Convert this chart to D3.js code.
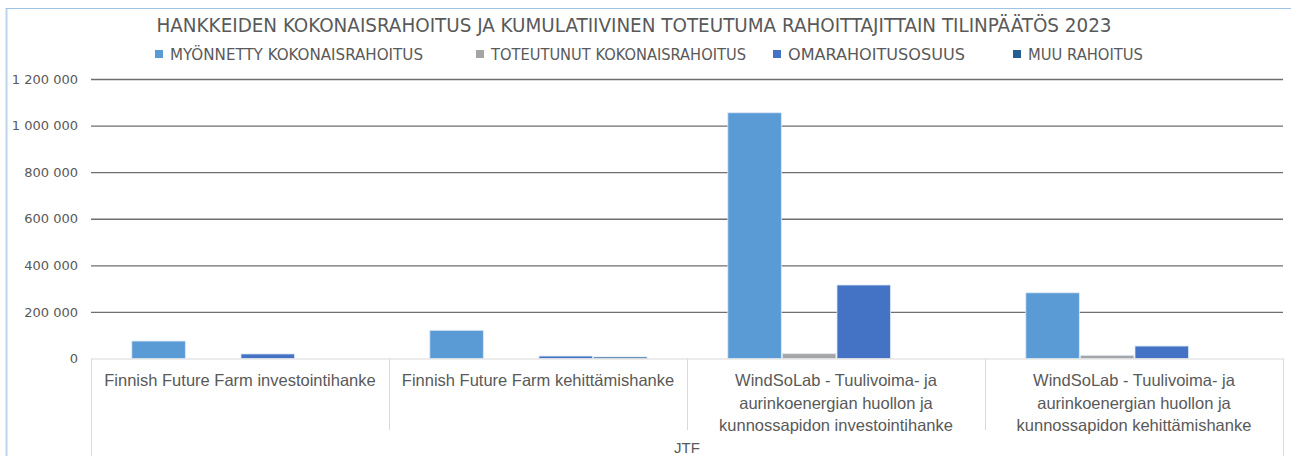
<!DOCTYPE html>
<html>
<head>
<meta charset="utf-8">
<script src="https://cdn.jsdelivr.net/npm/d3@7"></script>
<style>
  html, body { margin: 0; padding: 0; background: #fff; }
  svg { display: block; }
</style>
</head>
<body>
<svg id="kaavio" width="1291" height="456"></svg>
<script>
const hankkeet = [
    ["Finnish Future Farm investointihanke"],
    ["Finnish Future Farm kehittämishanke"],
    ["WindSoLab - Tuulivoima- ja", "aurinkoenergian huollon ja", "kunnossapidon investointihanke"],
    ["WindSoLab - Tuulivoima- ja", "aurinkoenergian huollon ja", "kunnossapidon kehittämishanke"]
];
const sarjat = ["MYÖNNETTY KOKONAISRAHOITUS", "TOTEUTUNUT KOKONAISRAHOITUS", "OMARAHOITUSOSUUS", "MUU RAHOITUS"];
const varit = ["#5b9bd5", "#a5a5a5", "#4472c4", "#255e91"];

const myonnetty  = [75000, 121000, 1055000, 282000];
const toteutunut = [0, 0, 20500, 13500];
const omarahoitus = [19500, 10500, 315500, 53500];
const muu        = [0, 6500, 0, 0];

const yTicks = [0, 200000, 400000, 600000, 800000, 1000000, 1200000];
const rahoittaja = "JTF";

const arvot = [myonnetty, toteutunut, omarahoitus, muu];

const svg = d3.select("#kaavio");
const vasen = 91, oikea = 1283, ylä = 79, nolla = 358.5;
const teksti = "#595959";

// ulkoreunus
svg.append("line").attr("x1", 6.5).attr("x2", 6.5).attr("y1", 8).attr("y2", 456)
    .attr("stroke", "#bdd4ee").attr("stroke-width", 2);
svg.append("line").attr("x1", 6).attr("x2", 1291).attr("y1", 8.5).attr("y2", 8.5)
    .attr("stroke", "#9dc3e6").attr("stroke-width", 1);

const y = d3.scaleLinear().domain([0, 1200000]).range([nolla, ylä]);
const x0 = d3.scaleBand().domain(d3.range(hankkeet.length)).range([vasen, oikea]);
const bw = x0.bandwidth();
const x1 = d3.scaleBand().domain(sarjat).range([bw * 0.137, bw * 0.866]).paddingInner(0.02);

const fmt = v => d3.format(",")(v).replace(/,/g, " ");

// ruudukko
const yAxis = svg.append("g").attr("transform", `translate(${vasen},0)`)
    .call(d3.axisLeft(y).tickValues(yTicks).tickSize(-(oikea - vasen)).tickPadding(13).tickFormat(fmt));
yAxis.select(".domain").remove();
yAxis.selectAll(".tick line")
    .attr("stroke", d => d === 0 ? "none" : "#6f6f6f").attr("stroke-width", 1.3);
yAxis.selectAll(".tick text")
    .attr("fill", teksti).attr("font-family", "DejaVu Sans, sans-serif").attr("font-size", 13);

// pylväät
const ryhma = svg.append("g").selectAll("g")
    .data(hankkeet.map((h, i) => i))
    .join("g")
    .attr("transform", i => `translate(${x0(i)},0)`);

ryhma.selectAll("rect")
    .data(i => sarjat.map((s, j) => ({ s, j, v: arvot[j][i] })).filter(d => d.v > 0))
    .join("rect")
    .attr("x", d => x1(d.s))
    .attr("width", x1.bandwidth())
    .attr("y", d => y(d.v))
    .attr("height", d => nolla - y(d.v))
    .attr("fill", d => varit[d.j])
    .attr("stroke", "#dbe8f5").attr("stroke-width", 0.8);

// kategoria-akseli
const ak = svg.append("g").attr("stroke", "#d9d9d9").attr("stroke-width", 1);
ak.append("line").attr("x1", vasen).attr("x2", oikea).attr("y1", nolla + 0.5).attr("y2", nolla + 0.5);
x0.domain().forEach(i => {
    ak.append("line").attr("x1", Math.round(x0(i)) + 0.5).attr("x2", Math.round(x0(i)) + 0.5)
        .attr("y1", nolla).attr("y2", i === 0 ? 456 : 430);
});
ak.append("line").attr("x1", oikea + 0.5).attr("x2", oikea + 0.5).attr("y1", nolla).attr("y2", 456);

svg.append("g").selectAll("text")
    .data(hankkeet.map((h, i) => i))
    .join("text")
    .attr("text-anchor", "middle")
    .attr("fill", teksti)
    .attr("font-family", "Liberation Sans, Arial, sans-serif")
    .attr("font-size", 16.5)
    .each(function(i) {
        d3.select(this).selectAll("tspan").data(hankkeet[i]).join("tspan")
            .attr("x", x0(i) + bw / 2)
            .attr("y", (d, k) => 386 + k * 22.5)
            .text(d => d);
    });

svg.append("text").attr("x", (vasen + oikea) / 2).attr("y", 453)
    .attr("text-anchor", "middle").attr("fill", teksti)
    .attr("font-family", "Liberation Sans, Arial, sans-serif").attr("font-size", 15)
    .text(rahoittaja);

// otsikko
svg.append("text").attr("x", 634).attr("y", 32)
    .attr("text-anchor", "middle").attr("fill", teksti)
    .attr("font-family", "Liberation Sans Narrow, DejaVu Sans Condensed, sans-serif")
    .attr("font-size", 20)
    .attr("textLength", 955).attr("lengthAdjust", "spacingAndGlyphs")
    .text("HANKKEIDEN KOKONAISRAHOITUS JA KUMULATIIVINEN TOTEUTUMA RAHOITTAJITTAIN TILINPÄÄTÖS 2023");

// selite
const seliteX = [155, 476, 773, 1013];
const seliteL = [253, 255, 177, 115];
const sel = svg.append("g").selectAll("g").data(sarjat).join("g")
    .attr("transform", (d, i) => `translate(${seliteX[i]},54)`);
sel.append("rect").attr("x", 0).attr("y", -4).attr("width", 8).attr("height", 8)
    .attr("fill", (d, i) => varit[i]);
sel.append("text").attr("x", 15).attr("y", 6)
    .attr("fill", teksti)
    .attr("font-family", "Liberation Sans Narrow, DejaVu Sans Condensed, sans-serif")
    .attr("font-size", 16.5)
    .attr("textLength", (d, i) => seliteL[i]).attr("lengthAdjust", "spacingAndGlyphs")
    .text(d => d);
</script>
</body>
</html>
